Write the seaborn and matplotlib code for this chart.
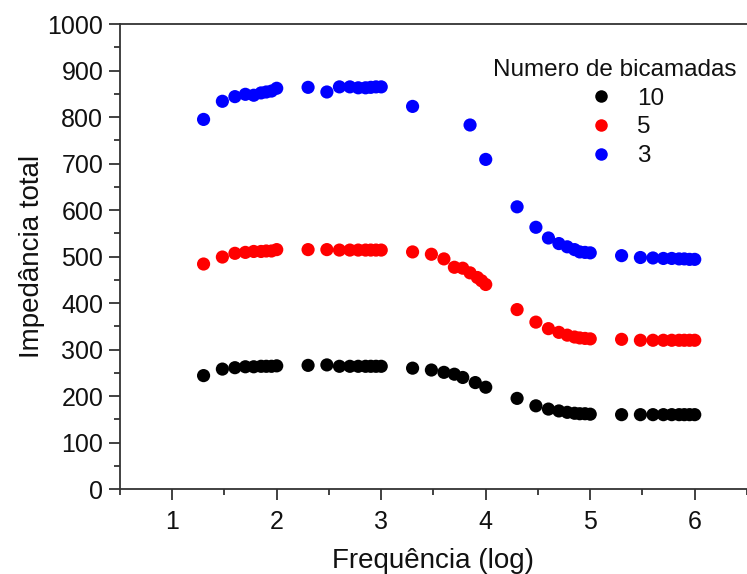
import matplotlib
matplotlib.use("Agg")
import matplotlib.pyplot as plt
import seaborn as sns
import pandas as pd
from matplotlib.ticker import MultipleLocator

sns.set_style("ticks")
plt.rcParams['font.family'] = ['Liberation Sans', 'DejaVu Sans']

# Data
x10 = [1.30, 1.48, 1.60, 1.70, 1.78, 1.85, 1.90, 1.95, 2.00,
       2.30, 2.48, 2.60, 2.70, 2.78, 2.85, 2.90, 2.95, 3.00,
       3.30, 3.48, 3.60, 3.70, 3.78, 3.90, 4.00,
       4.30, 4.48, 4.60, 4.70, 4.78, 4.85, 4.90, 4.95, 5.00,
       5.30, 5.48, 5.60, 5.70, 5.78, 5.85, 5.90, 5.95, 6.00]
y10 = [244, 258, 261, 263, 263, 264, 264, 264, 265,
       266, 267, 264, 264, 264, 264, 264, 264, 264,
       260, 256, 251, 247, 240, 229, 219,
       195, 179, 172, 168, 165, 163, 162, 162, 161,
       160, 160, 160, 160, 160, 160, 160, 160, 160]

x5 = [1.30, 1.48, 1.60, 1.70, 1.78, 1.85, 1.90, 1.95, 2.00,
      2.30, 2.48, 2.60, 2.70, 2.78, 2.85, 2.90, 2.95, 3.00,
      3.30, 3.48, 3.60, 3.70, 3.78, 3.85, 3.92, 3.96, 4.00,
      4.30, 4.48, 4.60, 4.70, 4.78, 4.85, 4.90, 4.95, 5.00,
      5.30, 5.48, 5.60, 5.70, 5.78, 5.85, 5.90, 5.95, 6.00]
y5 = [484, 499, 507, 509, 511, 511, 512, 512, 515,
      515, 515, 514, 514, 514, 514, 514, 514, 514,
      510, 505, 495, 477, 475, 465, 455, 448, 440,
      386, 359, 345, 337, 331, 327, 325, 324, 323,
      322, 320, 320, 320, 320, 320, 320, 320, 320]

x3 = [1.30, 1.48, 1.60, 1.70, 1.78, 1.85, 1.90, 1.95, 2.00,
      2.30, 2.48, 2.60, 2.70, 2.78, 2.85, 2.90, 2.95, 3.00,
      3.30, 3.85, 4.00,
      4.30, 4.48, 4.60, 4.70, 4.78, 4.85, 4.90, 4.95, 5.00,
      5.30, 5.48, 5.60, 5.70, 5.78, 5.85, 5.90, 5.95, 6.00]
y3 = [795, 834, 844, 849, 847, 852, 854, 856, 862,
      864, 854, 865, 865, 863, 863, 864, 865, 865,
      823, 783, 709,
      607, 563, 540, 528, 521, 515, 510, 509, 508,
      502, 498, 497, 496, 496, 495, 495, 494, 494]

series_names = ['10', '5', '3']
series_colors = ['black', 'red', 'blue']

df = pd.concat([
    pd.DataFrame({'x': x10, 'y': y10, 'n': '10'}),
    pd.DataFrame({'x': x5, 'y': y5, 'n': '5'}),
    pd.DataFrame({'x': x3, 'y': y3, 'n': '3'}),
], ignore_index=True)

fig = plt.figure(figsize=(7.47, 5.74), dpi=100)
ax = fig.add_axes([0.1606, 0.148, 0.8394, 0.81])

sns.scatterplot(data=df, x='x', y='y', hue='n', hue_order=series_names,
                palette=dict(zip(series_names, series_colors)),
                s=90, linewidth=0, ax=ax, legend=True)

ax.set_xlim(0.5, 6.5)
ax.set_ylim(0, 1000)
ax.xaxis.set_major_locator(MultipleLocator(1))
ax.xaxis.set_minor_locator(MultipleLocator(0.5))
ax.yaxis.set_major_locator(MultipleLocator(100))
ax.yaxis.set_minor_locator(MultipleLocator(50))

for side in ['left', 'bottom', 'top']:
    ax.spines[side].set_visible(True)
    ax.spines[side].set_linewidth(1.3)
    ax.spines[side].set_color('#333333')
ax.spines['right'].set_visible(False)

ax.tick_params(axis='both', which='major', direction='out', length=8, width=1.3,
               color='#333333', labelsize=18, labelcolor='#111111', pad=4)
ax.tick_params(axis='both', which='minor', direction='out', length=4.5, width=1.3,
               color='#333333')
ax.tick_params(axis='x', which='both', top=False)
ax.tick_params(axis='x', which='major', pad=7)

ax.set_xlabel('Frequência (log)', fontsize=20, color='#111111', labelpad=10)
ax.set_ylabel('Impedância total', fontsize=20, color='#111111', labelpad=2)

handles, labels = ax.get_legend_handles_labels()
leg = ax.legend(handles, labels, title='Numero de bicamadas', frameon=False,
                loc='upper right', bbox_to_anchor=(1.01, 0.962),
                fontsize=17.5, title_fontsize=17.5, markerscale=0.95,
                handlelength=3.0, handletextpad=0.0, labelspacing=0.28,
                borderpad=0.2)
for t in leg.get_texts():
    t.set_color('#111111')
leg.get_title().set_color('#111111')

fig.savefig('out.png', dpi=100)
